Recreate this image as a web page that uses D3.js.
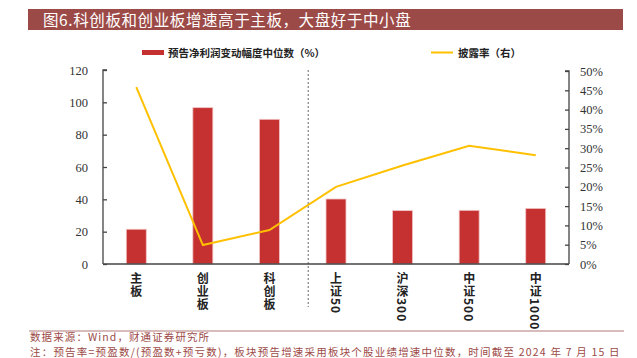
<!DOCTYPE html>
<html><head><meta charset="utf-8">
<script src="https://cdn.jsdelivr.net/npm/d3@7/dist/d3.min.js"></script>
<style>
body{margin:0;background:#fff;}
svg{display:block;}
</style></head>
<body>
<svg id="c" width="637" height="358"></svg>
<script>
const categories = ["主板","创业板","科创板","上证50","沪深300","中证500","中证1000"];
const barValues = [21.5, 96.7, 89.5, 40.2, 33.0, 33.2, 34.4];
const rateValues = [0.458, 0.049, 0.088, 0.200, 0.255, 0.306, 0.282];
const leftTicks = [0,20,40,60,80,100,120];
const rightTicks = [0,0.05,0.10,0.15,0.20,0.25,0.30,0.35,0.40,0.45,0.50];
const title = "图6.科创板和创业板增速高于主板，大盘好于中小盘";
const legendBar = "预告净利润变动幅度中位数（%）";
const legendLine = "披露率（右）";
const source = "数据来源：Wind，财通证券研究所";
const note = "注：预告率=预盈数/(预盈数+预亏数)，板块预告增速采用板块个股业绩增速中位数，时间截至 2024 年 7 月 15 日";

const svg = d3.select("#c");
const brown = "#9C4A47";
const cjk = "'Noto Sans CJK SC', sans-serif";
const serif = "'Liberation Serif', 'Times New Roman', serif";

// title banner
svg.append("rect").attr("x",28).attr("y",9).attr("width",595).attr("height",21).attr("fill",brown);
svg.append("text").attr("x",43).attr("y",25.5).attr("fill","#fff")
  .style("font-family",cjk).style("font-size","15.5px").style("letter-spacing","0.6px").text(title);

const L = 103, R = 569, B = 264;
const x = d3.scaleBand().domain(categories).range([L,R]).paddingInner(0.7).paddingOuter(0.35);
const yL = d3.scaleLinear().domain([0,120]).range([B,70]);
const yR = d3.scaleLinear().domain([0,0.5]).range([B,71]);

// legend
svg.append("rect").attr("x",142).attr("y",50).attr("width",22).attr("height",5).attr("fill","#C53030");
svg.append("text").attr("x",168).attr("y",56.5).style("font-family",cjk).style("font-size","10.5px")
  .style("font-weight","bold").attr("fill","#222").text(legendBar);
svg.append("line").attr("x1",431).attr("x2",453).attr("y1",52.5).attr("y2",52.5).attr("stroke","#FFC000").attr("stroke-width",2);
svg.append("text").attr("x",458).attr("y",56.5).style("font-family",cjk).style("font-size","10.5px")
  .style("font-weight","bold").attr("fill","#222").text(legendLine);

// separator dashed line
const sepX = (x("科创板") + x.bandwidth() + x("上证50"))/2 + 5.5;
svg.append("line").attr("x1",sepX).attr("x2",sepX).attr("y1",70).attr("y2",307)
  .attr("stroke","#666").attr("stroke-width",1).attr("stroke-dasharray","2,2");

// bars
svg.append("g").selectAll("rect").data(categories).join("rect")
  .attr("x",d=>x(d)).attr("width",x.bandwidth())
  .attr("y",(d,i)=>yL(barValues[i])).attr("height",(d,i)=>B-yL(barValues[i]))
  .attr("fill","#C53030").attr("stroke","#F2C4C4").attr("stroke-width",0.8);

// axes
const axL = svg.append("g").attr("transform",`translate(${L},0)`)
  .call(d3.axisRight(yL).tickValues(leftTicks).tickSize(4).tickFormat(""));
axL.select(".domain").attr("d",`M4,70H0V${B}`);
svg.append("g").selectAll("text").data(leftTicks).join("text")
  .attr("x",88).attr("y",d=>yL(d)+4.5).attr("text-anchor","end")
  .style("font-family",serif).style("font-size","12.5px").attr("fill","#333").text(d=>d);

const axR = svg.append("g").attr("transform",`translate(${R},0)`)
  .call(d3.axisLeft(yR).tickValues(rightTicks).tickSize(4).tickFormat(""));
axR.select(".domain").attr("d",`M-4,71H0V${B}`);
svg.append("g").selectAll("text").data(rightTicks).join("text")
  .attr("x",580).attr("y",d=>yR(d)+4.5).attr("text-anchor","start")
  .style("font-family",serif).style("font-size","12.5px").attr("fill","#333").text(d=>d3.format(".0%")(d));

[axL,axR].forEach(a=>{a.selectAll("path,line").attr("stroke","#444").attr("stroke-width",1.3);});

svg.append("line").attr("x1",L).attr("x2",R).attr("y1",B).attr("y2",B).attr("stroke","#444").attr("stroke-width",1.5);

// line series
const line = d3.line().x((d,i)=>x(categories[i])+x.bandwidth()/2).y(d=>yR(d));
svg.append("path").datum(rateValues).attr("d",line).attr("fill","none")
  .attr("stroke","#FFC000").attr("stroke-width",2);

// x labels (vertical)
svg.append("g").selectAll("text").data(categories).join("text")
  .attr("x",d=>x(d)+x.bandwidth()/2).attr("y",272)
  .style("writing-mode","vertical-rl").style("text-orientation","mixed")
  .style("font-family",cjk).style("font-size","12px").style("font-weight","bold")
  .style("letter-spacing","1px").attr("fill","#222").text(d=>d);

// footer
svg.append("line").attr("x1",29).attr("x2",624).attr("y1",331).attr("y2",331).attr("stroke","#B07A78").attr("stroke-width",1.2);
svg.append("text").attr("x",30).attr("y",341).style("font-family",cjk).style("font-size","10.5px")
  .style("letter-spacing","1.1px").attr("fill",brown).text(source);
svg.append("text").attr("x",30).attr("y",355.5).style("font-family",cjk).style("font-size","10.5px")
  .style("letter-spacing","1.2px").attr("fill",brown).text(note);
</script>
</body></html>
